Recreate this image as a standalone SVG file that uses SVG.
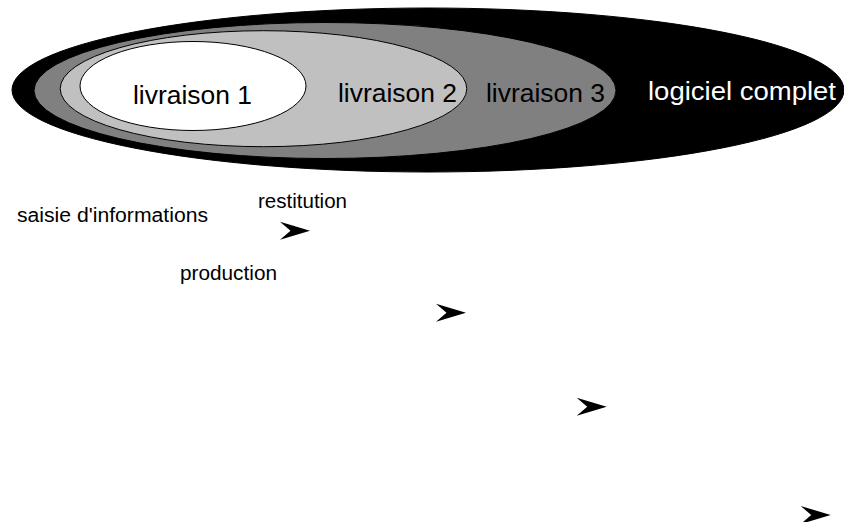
<svg xmlns="http://www.w3.org/2000/svg" width="844" height="522" viewBox="0 0 844 522">
<style>
  .ell { stroke: #000; stroke-width: 1; }
  .big { font-family: "Liberation Sans", Arial, sans-serif; font-size: 26.5px; fill: #000; }
  .small { font-family: "Liberation Sans", Arial, sans-serif; font-size: 20px; fill: #000; }
  .arrow { fill: #000; stroke: none; }
</style>
<defs>
  <path id="head" d="M0,0 L-30,-9 L-19.5,0 L-30,9 Z"/>
</defs>
<rect width="844" height="522" fill="#fff"/>
<g id="logiciel-complet">
  <ellipse class="ell" cx="428" cy="90" rx="416" ry="82" fill="#000"/>
  <text class="big" x="648" y="100" textLength="188" lengthAdjust="spacingAndGlyphs" style="fill:#fff">logiciel complet</text>
</g>
<g id="livraison-3">
  <ellipse class="ell" cx="325" cy="90.5" rx="291" ry="68" fill="#808080"/>
  <text class="big" x="486" y="102" textLength="119" lengthAdjust="spacingAndGlyphs">livraison 3</text>
</g>
<g id="livraison-2">
  <ellipse class="ell" cx="263.5" cy="88.7" rx="203.3" ry="58" fill="#c0c0c0"/>
  <text class="big" x="338" y="102" textLength="119" lengthAdjust="spacingAndGlyphs">livraison 2</text>
</g>
<g id="livraison-1">
  <ellipse class="ell" cx="193" cy="86" rx="113" ry="44.5" fill="#fff"/>
  <text class="big" x="133" y="104" textLength="119" lengthAdjust="spacingAndGlyphs">livraison 1</text>
</g>
<g id="saisie">
  <text class="small" x="17" y="221.7" textLength="191" lengthAdjust="spacingAndGlyphs">saisie d'informations</text>
</g>
<g id="restitution">
  <text class="small" x="258" y="207.5" textLength="89" lengthAdjust="spacingAndGlyphs">restitution</text>
</g>
<g id="production">
  <text class="small" x="180" y="280" textLength="97" lengthAdjust="spacingAndGlyphs">production</text>
</g>
<g id="connectors">
  <use href="#head" class="arrow" transform="translate(310,230.7)"/>
  <use href="#head" class="arrow" transform="translate(466,312.7)"/>
  <use href="#head" class="arrow" transform="translate(606.7,406.7)"/>
  <use href="#head" class="arrow" transform="translate(830.7,515)"/>
</g>
</svg>
